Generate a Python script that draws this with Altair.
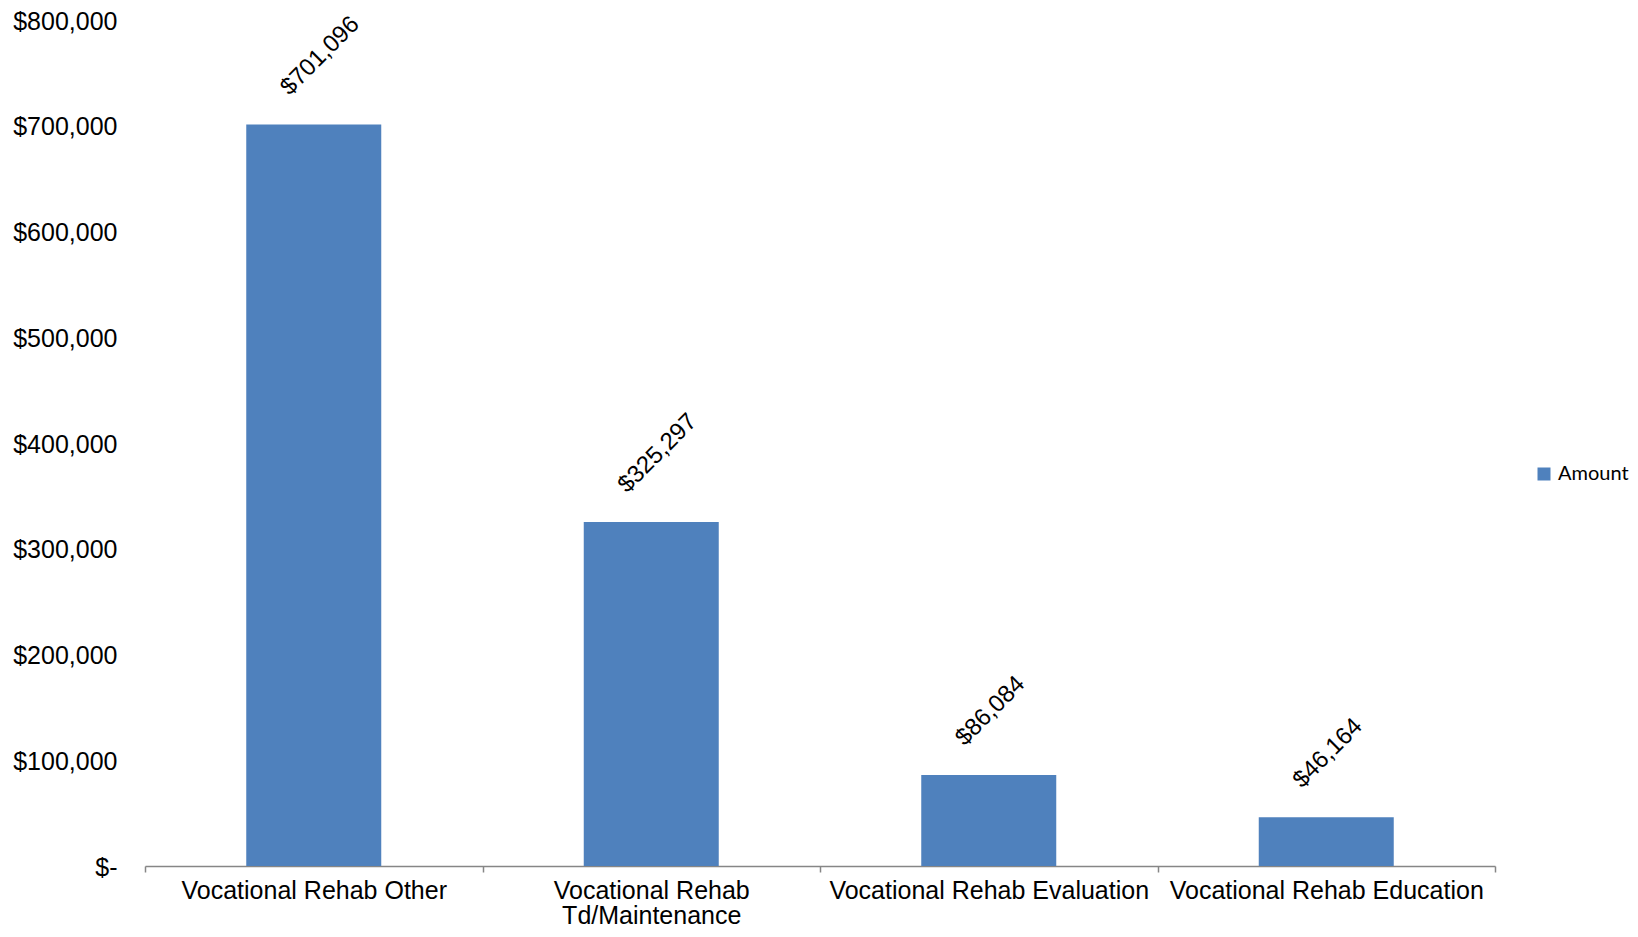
import altair as alt
import pandas as pd

categories = [
    "Vocational Rehab Other",
    "Vocational Rehab Td/Maintenance",
    "Vocational Rehab Evaluation",
    "Vocational Rehab Education",
]
amounts = [701096, 325297, 86084, 46164]
value_labels = ["$701,096", "$325,297", "$86,084", "$46,164"]
series_name = ["Amount"] * 4
y_ticks = [0, 100000, 200000, 300000, 400000, 500000, 600000, 700000, 800000]

df = pd.DataFrame({
    "category": categories,
    "amount": amounts,
    "label": value_labels,
    "series": series_name,
})

FONT = "Liberation Sans, Arial"

x_enc = alt.X(
    "category:N",
    sort=categories,
    title=None,
    scale=alt.Scale(paddingInner=0, paddingOuter=0),
    axis=alt.Axis(
        labelAngle=0,
        labelFont=FONT,
        labelFontSize=25,
        labelColor="black",
        labelPadding=6,
        labelLineHeight=25,
        labelLimit=400,
        labelExpr="datum.value == 'Vocational Rehab Td/Maintenance' ? ['Vocational Rehab', 'Td/Maintenance'] : datum.value",
        domainColor="#868686",
        domainWidth=1.5,
        tickColor="#868686",
        tickWidth=1.5,
        tickSize=6,
        tickBand="extent",
        labelBaseline="top",
    ),
)

y_enc = alt.Y(
    "amount:Q",
    title=None,
    scale=alt.Scale(domain=[0, 800000], nice=False),
    axis=alt.Axis(
        values=y_ticks,
        labelFont=FONT,
        labelFontSize=25,
        labelColor="black",
        labelPadding=28,
        labelOffset=1,
        labelExpr="datum.value == 0 ? '$-\u00a0\u00a0' : '$' + format(datum.value, ',')",
        domain=False,
        ticks=False,
        grid=False,
    ),
)

bars = alt.Chart(df).mark_bar(
    color="#4F81BD", width=alt.RelativeBandSize(0.4)
).encode(
    x=x_enc,
    y=y_enc,
    color=alt.Color(
        "series:N",
        scale=alt.Scale(range=["#4F81BD"]),
        legend=alt.Legend(
            title=None,
            orient="none",
            legendX=1389,
            legendY=444,
            symbolType="square",
            symbolSize=169,
            symbolStrokeWidth=0,
            labelFont="Lato",
            labelFontSize=20,
            labelColor="black",
            labelOffset=4,
            labelLimit=200,
            padding=0,
        ),
    ),
)

texts = alt.Chart(df).mark_text(
    angle=315,
    align="left",
    baseline="middle",
    dx=3,
    dy=-44,
    font=FONT,
    fontSize=24,
    color="black",
).encode(
    x=alt.X("category:N", sort=categories),
    y=alt.Y("amount:Q"),
    text="label:N",
)

chart = (
    alt.layer(bars, texts)
    .properties(
        width=1350,
        height=846,
        autosize="none",
        background="white",
        padding={"left": 137, "top": 12, "right": 135, "bottom": 63},
    )
    .configure_view(stroke="transparent", strokeWidth=0)
)

chart.save("out.html", embed_options={"renderer": "svg", "actions": False})
